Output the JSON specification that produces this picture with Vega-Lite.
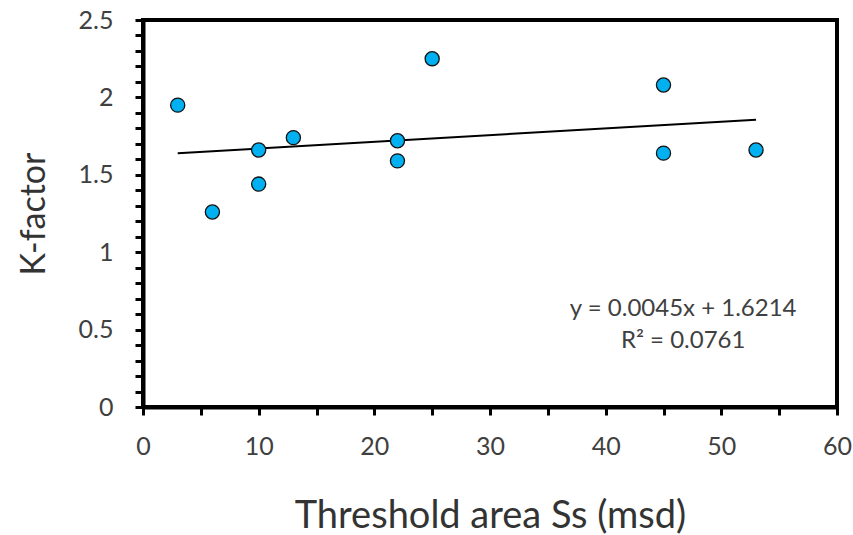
{
  "$schema": "https://vega.github.io/schema/vega-lite/v6.json",
  "width": 694,
  "height": 387,
  "autosize": "none",
  "padding": {"left": 143, "top": 20, "right": 16, "bottom": 128},
  "background": "white",
  "config": {"view": {"stroke": "black", "strokeWidth": 4}, "font": "Lato"},
  "data": {"values": [
    {"s": 3, "k": 1.95},
    {"s": 6, "k": 1.26},
    {"s": 10, "k": 1.66},
    {"s": 10, "k": 1.44},
    {"s": 13, "k": 1.74},
    {"s": 22, "k": 1.72},
    {"s": 22, "k": 1.59},
    {"s": 25, "k": 2.25},
    {"s": 45, "k": 2.08},
    {"s": 45, "k": 1.64},
    {"s": 53, "k": 1.66}
  ]},
  "encoding": {
    "x": {"field": "s", "type": "quantitative",
      "scale": {"domain": [0, 60], "nice": false},
      "axis": {"title": "Threshold area Ss (msd)", "values": [0,5,10,15,20,25,30,35,40,45,50,55,60],
        "format": "~g", "labelExpr": "datum.value % 10 == 0 ? datum.label : ''",
        "grid": false, "domainColor": "black", "domainWidth": 4, "tickColor": "black", "tickWidth": 3, "tickSize": 8,
        "labelFontSize": 25, "labelColor": "#404040", "labelPadding": 19, "labelFlush": false,
        "titleFontSize": 38, "titleFontWeight": "normal", "titleColor": "#333333", "titlePadding": 38}},
    "y": {"field": "k", "type": "quantitative",
      "scale": {"domain": [0, 2.5], "nice": false},
      "axis": {"title": "K-factor", "values": [0,0.1,0.2,0.3,0.4,0.5,0.6,0.7,0.8,0.9,1,1.1,1.2,1.3,1.4,1.5,1.6,1.7,1.8,1.9,2,2.1,2.2,2.3,2.4,2.5],
        "format": "~g", "labelExpr": "round(datum.value * 10) % 5 == 0 ? datum.label : ''",
        "grid": false, "domainColor": "black", "domainWidth": 4, "tickColor": "black", "tickWidth": 3, "tickSize": 8,
        "labelFontSize": 25, "labelColor": "#404040", "labelPadding": 22, "labelFlush": false,
        "titleFontSize": 34, "titleFontWeight": "normal", "titleColor": "#333333", "titlePadding": 27}}
  },
  "layer": [
    {"transform": [{"regression": "k", "on": "s"}],
     "mark": {"type": "line", "color": "black", "strokeWidth": 2}},
    {"mark": {"type": "circle", "size": 200, "fill": "#00B0F0", "stroke": "#111111", "strokeWidth": 1.3, "opacity": 1}},
    {"data": {"values": [
       {"s": 46.7, "k": 0.63, "t": "y = 0.0045x + 1.6214"},
       {"s": 46.7, "k": 0.426, "t": "R² = 0.0761"}]},
     "mark": {"type": "text", "fontSize": 24, "color": "#404040", "align": "center", "baseline": "middle"},
     "encoding": {"text": {"field": "t"}}}
  ]
}
